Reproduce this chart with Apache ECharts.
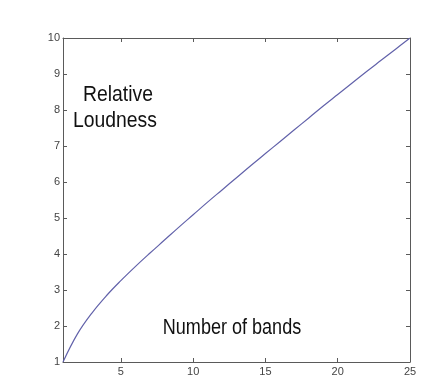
<!DOCTYPE html>
<html><head><meta charset="utf-8">
<script src="https://cdn.jsdelivr.net/npm/echarts@6/dist/echarts.min.js"></script>
<style>html,body{margin:0;padding:0;background:#fff}#c{width:440px;height:382px}</style>
</head><body><div id="c"></div>
<script>
const bands = [1,2,3,4,5,6,7,8,9,10,11,12,13,14,15,16,17,18,19,20,21,22,23,24,25];
const loudness = [1,1.78,2.36,2.84,3.26,3.65,4.02,4.38,4.74,5.09,5.44,5.78,6.12,6.46,6.79,7.12,7.45,7.78,8.11,8.43,8.75,9.07,9.38,9.69,10];
const xTicks = [5,10,15,20,25];
const yTicks = [1,2,3,4,5,6,7,8,9,10];
const yLabelText = "Relative";
const yLabelText2 = "Loudness";
const xLabelText = "Number of bands";

const chart = echarts.init(document.getElementById('c'), null, {renderer:'canvas'});
const axisCol = '#5a5a5a';
const font = 'Liberation Sans, Arial, sans-serif';
chart.setOption({
  animation:false,
  grid:{left:63, right:30, top:38, bottom:20, containLabel:false},
  xAxis:[{
    type:'value', min:1, max:25, position:'bottom',
    axisLine:{lineStyle:{color:axisCol,width:1}},
    axisTick:{inside:true,length:4,customValues:xTicks,lineStyle:{color:axisCol}},
    axisLabel:{customValues:xTicks,color:'#444',fontSize:11,fontFamily:font,margin:4},
    splitLine:{show:false}
  },{
    type:'value', min:1, max:25, position:'top',
    axisLine:{lineStyle:{color:axisCol,width:1}},
    axisTick:{inside:true,length:4,customValues:xTicks,lineStyle:{color:axisCol}},
    axisLabel:{show:false},
    splitLine:{show:false}
  }],
  yAxis:[{
    type:'value', min:1, max:10, interval:1, position:'left',
    axisLine:{show:true,lineStyle:{color:axisCol,width:1}},
    axisTick:{show:true,inside:true,length:4,lineStyle:{color:axisCol}},
    axisLabel:{color:'#444',fontSize:11,fontFamily:font,margin:3},
    splitLine:{show:false}
  },{
    type:'value', min:1, max:10, interval:1, position:'right',
    axisLine:{show:true,lineStyle:{color:axisCol,width:1}},
    axisTick:{show:true,inside:true,length:4,lineStyle:{color:axisCol}},
    axisLabel:{show:false},
    splitLine:{show:false}
  }],
  series:[{
    type:'line', data:bands.map((b,i)=>[b,loudness[i]]), smooth:0.4,
    showSymbol:false, lineStyle:{color:'#6262aa',width:1.2}, xAxisIndex:0, yAxisIndex:0
  }],
  graphic:[
    {type:'text', x:118, y:95, scaleX:0.88, style:{text:yLabelText, font:'22px '+font, fill:'#111', align:'center', verticalAlign:'middle'}},
    {type:'text', x:115, y:121, scaleX:0.88, style:{text:yLabelText2, font:'22px '+font, fill:'#111', align:'center', verticalAlign:'middle'}},
    {type:'text', x:232, y:328, scaleX:0.82, style:{text:xLabelText, font:'22px '+font, fill:'#111', align:'center', verticalAlign:'middle'}}
  ]
});
</script></body></html>
